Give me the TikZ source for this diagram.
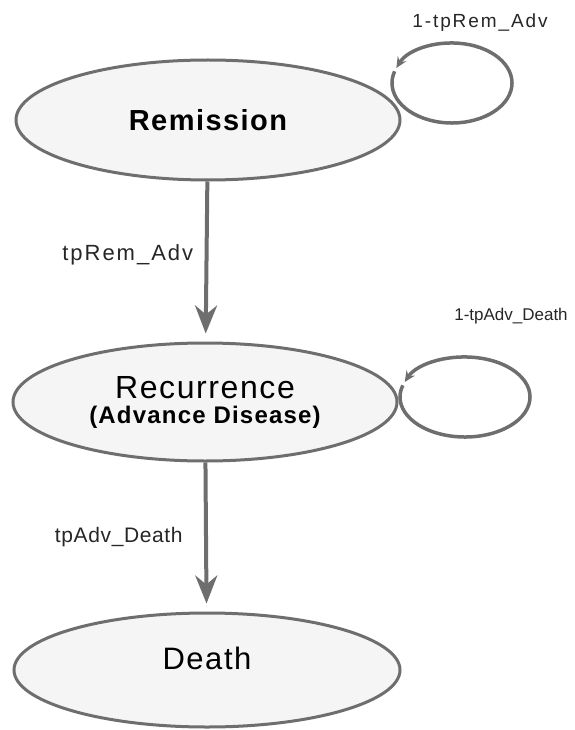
\documentclass[tikz,border=0pt]{standalone}
\usepackage{fontspec}
\setmainfont{Liberation Sans}
\usepackage{tikz}
\usetikzlibrary{positioning}
\usetikzlibrary{shapes.geometric}
\usetikzlibrary{arrows.meta}
\usetikzlibrary{calc}

\definecolor{stategray}{HTML}{6E6E6E}
\definecolor{statefill}{HTML}{F5F5F5}

% letter spaced text, size in pt
\newcommand{\spaced}[3]{{\fontsize{#1}{#1}\selectfont\addfontfeature{LetterSpace=#2}#3}}

\begin{document}
\begin{tikzpicture}[x=1pt, y=-1pt,
    state/.style={ellipse, draw=stategray, fill=statefill, line width=3pt,
        inner sep=0pt, align=center},
    flow/.style={-{Stealth[length=28pt, width=22pt, inset=9pt]},
        draw=stategray, line width=4pt, shorten >=8pt},
    selfloop/.style={-{Stealth[length=11pt, width=10pt, inset=4pt]},
        draw=stategray, line width=3.5pt},
    prob/.style={text=black!85}]
    \useasboundingbox (0,0) rectangle (574,730);

        \node [state, minimum width=384pt, minimum height=120pt] (rem) at (208,120)
            {\bfseries\spaced{29}{5}{Remission}};
        \node [state, minimum width=384pt, minimum height=118pt,
            font=\fontsize{24}{25}\selectfont] (rec) at (205,402)
            {\spaced{32}{5}{Recurrence}\\
             \bfseries\spaced{24}{5}{(Advance Disease)}};
        \node [state, minimum width=386pt, minimum height=114pt] (dead) at (207,670)
            {\raisebox{24pt}{\spaced{31}{5}{Death}}};

        \coordinate (remloop) at (452,83);
        \coordinate (recloop) at (465,397);

        \path (rem) edge[flow] node[prob, left=8pt, yshift=7pt]{\spaced{22}{9}{tpRem\_Adv}} (rec);
        \path (rec) edge[flow] node[prob, left=18pt]{\spaced{21}{3}{tpAdv\_Death}} (dead);

        \draw[selfloop] ($(remloop)+(557:60 and 40)$)
            arc[start angle=557, end angle=202, x radius=60, y radius=40];
        \draw[selfloop] ($(recloop)+(557:65 and 40)$)
            arc[start angle=557, end angle=202, x radius=65, y radius=40];

        \node [prob] (remlab) at (480,23) {\spaced{19}{10}{1-tpRem\_Adv}};
        \node [prob] (reclab) at (511,316) {\spaced{17}{0}{1-tpAdv\_Death}};
\end{tikzpicture}
\end{document}
